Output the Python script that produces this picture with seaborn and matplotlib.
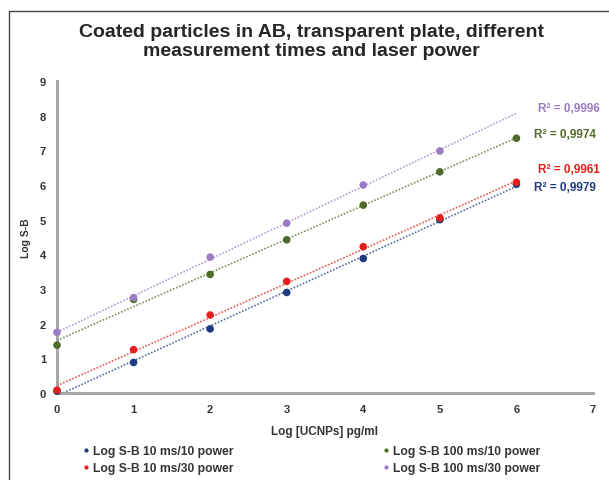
import numpy as np
import pandas as pd
import seaborn as sns
import matplotlib.pyplot as plt
from matplotlib.patches import Rectangle

# values
log_conc = [0, 1, 2, 3, 4, 5, 6]
blue_10ms_10 = [0.05, 0.88, 1.85, 2.90, 3.88, 5.00, 6.02]
red_10ms_30 = [0.08, 1.25, 2.25, 3.22, 4.22, 5.05, 6.08]
green_100ms_10 = [1.38, 2.70, 3.42, 4.42, 5.42, 6.38, 7.35]
purple_100ms_30 = [1.75, 2.75, 3.92, 4.90, 6.00, 6.98]

series_names = ["Log S-B 10 ms/10 power", "Log S-B 10 ms/30 power",
                "Log S-B 100 ms/10 power", "Log S-B 100 ms/30 power"]
series_vals = [blue_10ms_10, red_10ms_30, green_100ms_10, purple_100ms_30]
r2_labels = ["R² = 0,9979", "R² = 0,9961", "R² = 0,9974", "R² = 0,9996"]
colors = ["#1f3a80", "#e3201b", "#4f6b2b", "#9a7cc4"]
r2_pos = [(6.23, 5.94), (6.28, 6.46), (6.23, 7.47), (6.28, 8.22)]

rows = []
for name, vals in zip(series_names, series_vals):
    for x, y in zip(log_conc, vals):
        rows.append({"x": x, "y": y, "serie": name})
df = pd.DataFrame(rows)

sns.set_style("white")
plt.rcParams['font.family'] = ['Liberation Sans', 'DejaVu Sans']

fig = plt.figure(figsize=(6.09, 4.81), dpi=100)
ax = fig.add_axes([0.0936, 0.1809, 0.8801, 0.6486])

fig.patches.append(Rectangle((9 / 609, -0.1), 1.2, 1 - 12 / 481 + 0.1,
                             transform=fig.transFigure, fill=False,
                             edgecolor="#444444", linewidth=1.0))

# dotted linear trendlines (purple extended to 6)
for vals, c in zip(series_vals, colors):
    xs = np.array(log_conc[:len(vals)])
    k, b = np.polyfit(xs, vals, 1)
    xl = np.array([0, 6])
    ax.plot(xl, k * xl + b, linestyle=(0, (1, 1)), color=c, linewidth=1.2,
            alpha=0.75, zorder=2)

sns.scatterplot(data=df, x="x", y="y", hue="serie", palette=colors,
                s=30, edgecolor="none", ax=ax, zorder=3, clip_on=False)

for lab, (px, py), c in zip(r2_labels, r2_pos, colors):
    ax.text(px, py, lab, color=c, fontsize=8.5, fontweight="bold",
            ha="left", va="center")

ax.set_xlim(0, 7)
ax.set_ylim(0, 9)
ax.set_xticks(range(0, 8))
ax.set_yticks(range(0, 10))
ax.tick_params(labelsize=8, length=0, pad=8, colors="#333333")
for t in ax.get_xticklabels() + ax.get_yticklabels():
    t.set_fontweight("bold")
ax.set_xlabel("Log [UCNPs] pg/ml", fontsize=8.5, fontweight="bold",
              color="#333333", labelpad=8)
ax.set_ylabel("Log S-B", fontsize=7.5, fontweight="bold", color="#333333",
              labelpad=6)
sns.despine(ax=ax)
for sp in ["left", "bottom"]:
    ax.spines[sp].set_color("#a0a0a0")
    ax.spines[sp].set_linewidth(2)

fig.text(0.512, 0.913, "Coated particles in AB, transparent plate, different\n"
         "measurement times and laser power", ha="center", va="center",
         fontsize=14, fontweight="bold", linespacing=1.15)

ax.get_legend().remove()
handles, labels = ax.get_legend_handles_labels()
leg = fig.legend(handles, labels, loc="upper left",
                 bbox_to_anchor=(82 / 609, 1 - 446 / 481), ncol=2,
                 frameon=False, borderpad=0, borderaxespad=0,
                 handlelength=0.6, handletextpad=0.3,
                 columnspacing=12.3, markerscale=0.55, labelspacing=0.45,
                 prop={"weight": "bold", "size": 8.7})
for t in leg.get_texts():
    t.set_color("#333333")

fig.savefig("out.png", dpi=100)
